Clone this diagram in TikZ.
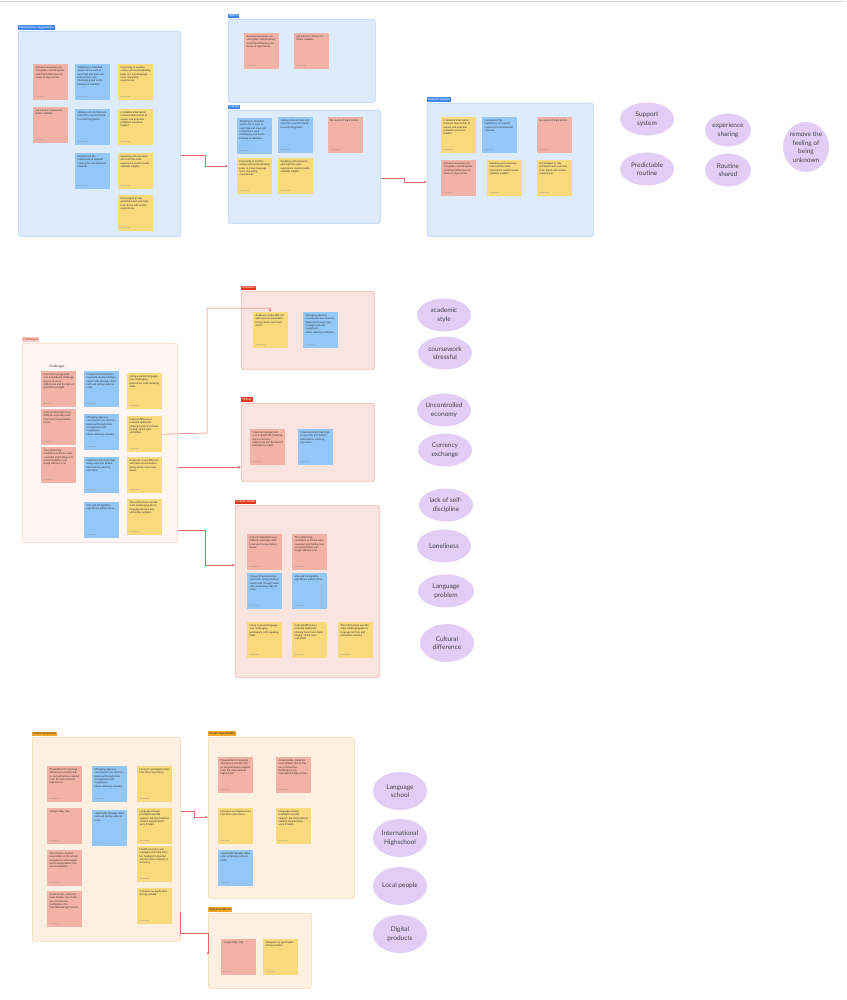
\documentclass[tikz,border=0pt]{standalone}
\usepackage{fontspec}
\setmainfont{Lato}
\usetikzlibrary{arrows.meta,positioning,shapes.geometric}

\definecolor{inkgray}{HTML}{444444}
\definecolor{bluefill}{HTML}{DDEBFB}
\definecolor{blueline}{HTML}{B7D3F3}
\definecolor{challfill}{HTML}{FFF5F3}
\definecolor{challline}{HTML}{F7D2CC}
\definecolor{pinkfill}{HTML}{F9E4DF}
\definecolor{pinkline}{HTML}{EDB6AD}
\definecolor{orangefill}{HTML}{FDF0E0}
\definecolor{orangeline}{HTML}{F3D6B0}
\definecolor{tagblue}{HTML}{3F86EE}
\definecolor{tagred}{HTML}{E5371F}
\definecolor{tagpink}{HTML}{F8CBC4}
\definecolor{tagorange}{HTML}{F4A62A}
\definecolor{notered}{HTML}{F3B2A6}
\definecolor{noteblue}{HTML}{93C7F8}
\definecolor{noteyellow}{HTML}{F8D97C}
\definecolor{ideafill}{HTML}{E2CDF6}
\definecolor{linkred}{HTML}{E26C6C}

\begin{document}
\begin{tikzpicture}[
  x=1pt, y=-1pt,
  every node/.style={font=\fontsize{6.5}{8.5}\selectfont, text=inkgray},
  frame/.style={draw=#1line, fill=#1fill, line width=0.6pt, rounded corners=1.5pt,
                anchor=north west, inner sep=0pt},
  tag/.style={fill=#1, anchor=south west, inner sep=0.8pt,
              font=\fontsize{3.2}{3.2}\selectfont},
  note/.style={fill=note#1, anchor=north west, inner sep=2.5pt, text=black!80,
               font=\fontsize{2.6}{3.3}\selectfont,
               execute at begin node={\begin{minipage}[t][31pt][t]{30pt}\raggedright},
               execute at end node={\endgraf\vfill{\color{black!45}\fontsize{1.8}{2}\selectfont Interviewee}\end{minipage}}},
  idea/.style={ellipse, fill=ideafill, inner sep=0pt, minimum width=54pt,
               minimum height=33pt, align=center},
  link/.style={draw=linkred, line width=0.5pt, -{Stealth[length=3pt,width=2.6pt]}},
]
  \useasboundingbox (0,0) rectangle (846,1000);
  \draw[black!15, line width=0.6pt] (0,1) -- (846,1);

  % top row: expectations
  \node[frame=blue, minimum width=162pt, minimum height=205pt] (fone) at (18,31) {};
  \node[tag=tagblue, text=white, above right=1pt and 0pt of fone.north west] {Expectation, suggestions};
  \node[note=red] (eR1) at (33,64) {Advised newcomers to strengthen self-discipline, avoid bad influences, be aware of legal norms.};
  \node[note=red] (eR2) at (33,107) {get a driver's license for better mobility.};
  \node[note=blue] (eB1) at (75,64) {Adapting to Canadian social norms, such as small talk and reserved interactions, was challenging and led to feelings of isolation.};
  \node[note=blue] (eB2) at (75,109) {Joining cultural clubs and university events helped in social integration.};
  \node[note=blue] (eB3) at (75,153) {Emphasized the importance of support systems for international students.};
  \node[note=yellow] (eY1) at (118,64) {Immersing in another culture and understanding jokes in a new language were rewarding experiences.};
  \node[note=yellow] (eY2) at (118,109) {A detailed information resource about what to expect and potential problems would be helpful.};
  \node[note=yellow] (eY3) at (118,153) {Speaking with someone who had the same experience could provide valuable insights.};
  \node[note=yellow] (eY4) at (118,195) {Encouraged to stay persistent and seek help from those with similar experiences.};

  \node[frame=blue, minimum width=147pt, minimum height=83pt] (ftwo) at (228,19) {};
  \node[tag=tagblue, text=white, above right=1pt and 0pt of ftwo.north west] {Advice};
  \node[note=red] (aR1) at (244,33) {Advised newcomers to strengthen self-discipline, avoid bad influences, be aware of legal norms.};
  \node[note=red] (aR2) at (294,33) {get a driver's license for better mobility.};

  \node[frame=blue, minimum width=152pt, minimum height=113pt] (fthree) at (228,110) {};
  \node[tag=tagblue, text=white, above right=1pt and 0pt of fthree.north west] {Culture};
  \node[note=blue] (cB1) at (237,118) {Adapting to Canadian social norms, such as small talk and reserved interactions, was challenging and led to feelings of isolation.};
  \node[note=blue] (cB2) at (278,117) {Joining cultural clubs and university events helped in social integration.};
  \node[note=red] (cR1) at (328,117) {Be aware of legal norms.};
  \node[note=yellow] (cY1) at (237,158) {Immersing in another culture and understanding jokes in a new language were rewarding experiences.};
  \node[note=yellow] (cY2) at (278,158) {Speaking with someone who had the same experience could provide valuable insights.};

  \node[frame=blue, minimum width=166pt, minimum height=133pt] (ffour) at (427,103) {};
  \node[tag=tagblue, text=white, above right=1pt and 0pt of ffour.north west] {Support system};
  \node[note=yellow] (sY1) at (441,117) {A detailed information resource about what to expect and potential problems would be helpful.};
  \node[note=blue] (sB1) at (482,117) {Emphasized the importance of support systems for international students.};
  \node[note=red] (sR1) at (537,117) {Be aware of legal norms.};
  \node[note=red] (sR2) at (441,160) {Advised newcomers to strengthen self-discipline, avoid bad influences, be aware of legal norms.};
  \node[note=yellow] (sY2) at (487,160) {Speaking with someone who had the same experience could provide valuable insights.};
  \node[note=yellow] (sY3) at (537,160) {Encouraged to stay persistent and seek help from those with similar experiences.};

  \node[idea] (support) at (647,119) {Support\\system};
  \node[idea] (predict) at (647,169) {Predictable\\routine};
  \node[idea, minimum width=46pt] (sharing) at (728,130) {experience\\sharing};
  \node[idea, minimum width=46pt] (routine) at (728,170) {Routine\\shared};
  \node[idea, minimum width=46pt, minimum height=50pt] (unknown) at (806,147) {remove the\\feeling of\\being\\unknown};

  \draw[link] (fone.east |- 0,155) -- (205,155) |- (fthree.west |- 0,166);
  \draw[link] (fthree.east |- 0,178) -- (404,178) |- (ffour.west |- 0,182);

  % middle row: challenges
  \node[frame=chall, minimum width=155pt, minimum height=199pt] (chall) at (22,343) {};
  \node[tag=tagpink, text=tagred!80!black, above right=1pt and 0pt of chall.north west] {Challenges};
  \node[font=\fontsize{3.2}{3.2}\selectfont, text=black!80] (chtitle) at (57,367) {Challenges};
  \node[note=red] (chR1) at (41,371) {Financial management was a significant challenge due to currency differences and the lack of parental oversight.};
  \node[note=red] (chR2) at (41,409) {Cultural adaptation was difficult, especially with food and transportation issues.};
  \node[note=red] (chR3) at (41,447) {The initial living conditions in dorms were crowded, and finding new accommodation was tough without a car.};
  \node[note=blue] (chB1) at (84,371) {Frequent homesickness, especially during holidays, coped with through video calls and joining cultural clubs.};
  \node[note=blue] (chB2) at (84,414) {Managing rigorous coursework was stressful, balanced through time management and engaging in stress-relieving activities.};
  \node[note=blue] (chB3) at (84,457) {Financial strain from high living costs and tuition, balanced by working part-time.};
  \node[note=blue] (chB4) at (84,502) {Visa and immigration regulations added stress.};
  \node[note=yellow] (chY1) at (127,373) {Using a second language was challenging, particularly with speaking skills.};
  \node[note=yellow] (chY2) at (127,416) {Cultural differences included habits like shaking hands and cheek kissing, which were unfamiliar.};
  \node[note=yellow] (chY3) at (127,457) {Academic styles differed, with German education being stricter and more direct.};
  \node[note=yellow] (chY4) at (127,499) {The initial phase was the most challenging due to language barriers and unfamiliar customs.};

  \node[frame=pink, minimum width=133pt, minimum height=78pt] (acad) at (241,291) {};
  \node[tag=tagred, text=white, above right=1pt and 0pt of acad.north west] {Academic};
  \node[note=yellow] (acY) at (253,312) {Academic styles differed, with German education being stricter and more direct.};
  \node[note=blue] (acB) at (303,312) {Managing rigorous coursework was stressful, balanced through time management and engaging in stress-relieving activities.};

  \node[frame=pink, minimum width=133pt, minimum height=78pt] (money) at (241,403) {};
  \node[tag=tagred, text=white, above right=1pt and 0pt of money.north west] {Money};
  \node[note=red] (moR) at (250,429) {Financial management was a significant challenge due to currency differences and the lack of parental oversight.};
  \node[note=blue] (moB) at (298,429) {Financial strain from high living costs and tuition, balanced by working part-time.};

  \node[frame=pink, minimum width=144pt, minimum height=172pt] (cult) at (235,505) {};
  \node[tag=tagred, text=white, above right=1pt and 0pt of cult.north west] {Culture shock};
  \node[note=red] (cuR1) at (247,534) {Cultural adaptation was difficult, especially with food and transportation issues.};
  \node[note=red] (cuR2) at (292,534) {The initial living conditions in dorms were crowded, and finding new accommodation was tough without a car.};
  \node[note=blue] (cuB1) at (247,573) {Frequent homesickness, especially during holidays, coped with through video calls and joining cultural clubs.};
  \node[note=blue] (cuB2) at (292,573) {Visa and immigration regulations added stress.};
  \node[note=yellow] (cuY1) at (247,622) {Using a second language was challenging, particularly with speaking skills.};
  \node[note=yellow] (cuY2) at (292,622) {Cultural differences included habits like shaking hands and cheek kissing, which were unfamiliar.};
  \node[note=yellow] (cuY3) at (338,622) {The initial phase was the most challenging due to language barriers and unfamiliar customs.};

  \node[idea] (acstyle) at (444,315) {academic\\style};
  \node[idea] (course) at (445,353) {coursework\\stressful};
  \node[idea] (economy) at (444,410) {Uncontrolled\\economy};
  \node[idea] (currency) at (445,450) {Currency\\exchange};
  \node[idea] (discipline) at (446,505) {lack of self-\\discipline};
  \node[idea] (lonely) at (444,546) {Loneliness};
  \node[idea, minimum width=56pt] (language) at (446,591) {Language\\problem};
  \node[idea, minimum height=38pt] (difference) at (447,643) {Cultural\\difference};

  \draw[link] (chY2.east) -- (207,433) |- (270,308) -- (acY.north -| 270,0);
  \draw[link] (chall.east |- 0,467) -- (money.west |- 0,467);
  \draw[link] (chall.east |- 0,530) -- (205,530) |- (cult.west |- 0,565);

  % bottom row: resources
  \node[frame=orange, minimum width=148pt, minimum height=204pt] (useful) at (32,737) {};
  \node[tag=tagorange, text=black!80, above right=1pt and 0pt of useful.north west] {Useful resources};
  \node[note=red] (uR1) at (47,766) {Preparation for studying abroad was smooth due to comprehensive support from the international high school.};
  \node[note=red] (uR2) at (47,808) {Google Map, Yelp};
  \node[note=red] (uR3) at (47,850) {The Chinese student association at the school provided crucial support with transportation and accommodation.};
  \node[note=red] (uR4) at (47,891) {Academically, materials were familiar due to the use of American textbooks in his international high school.};
  \node[note=blue] (uB1) at (92,766) {Managing rigorous coursework was stressful, balanced through time management and engaging in stress-relieving activities.};
  \node[note=blue] (uB2) at (92,810) {coped with through video calls and joining cultural clubs.};
  \node[note=yellow] (uY1) at (137,766) {Local pen pal helped when first time came there.};
  \node[note=yellow] (uY2) at (137,808) {Language schools provided essential support, but international student organizations were limited.};
  \node[note=yellow] (uY3) at (137,846) {Health insurance was managed with help from her husband in Quebec and dormitory support in Germany.};
  \node[note=yellow] (uY4) at (137,888) {Compare my application during website};

  \node[frame=orange, minimum width=146pt, minimum height=161pt] (social) at (208,737) {};
  \node[tag=tagorange, text=black!80, above right=1pt and 0pt of social.north west] {Social organization};
  \node[note=red] (soR1) at (218,757) {Preparation for studying abroad was smooth due to comprehensive support from the international high school.};
  \node[note=red] (soR2) at (276,757) {Academically, materials were familiar due to the use of American textbooks in his international high school.};
  \node[note=yellow] (soY1) at (218,808) {Local pen pal helped when first time came there.};
  \node[note=yellow] (soY2) at (276,808) {Language schools provided essential support, but international student organizations were limited.};
  \node[note=blue] (soB1) at (218,850) {coped with through video calls and joining cultural clubs.};

  \node[frame=orange, minimum width=103pt, minimum height=75pt] (digital) at (208,913) {};
  \node[tag=tagorange, text=black!80, above right=1pt and 0pt of digital.north west] {Digital products};
  \node[note=red] (dR1) at (221,939) {Google Map, Yelp};
  \node[note=yellow] (dY1) at (263,939) {Compare my application during website};

  \node[idea, minimum height=38pt] (langschool) at (400,791) {Language\\school};
  \node[idea, minimum height=38pt] (intlhigh) at (400,838) {International\\Highschool};
  \node[idea, minimum height=38pt] (locals) at (400,886) {Local people};
  \node[idea, minimum height=38pt] (digiprod) at (400,934) {Digital\\products};

  \draw[link] (useful.east |- 0,811) -- (194,811) |- (social.west |- 0,817);
  \draw[link] (useful.east |- 0,912) |- (208,933) -- (digital.west |- 0,955);
\end{tikzpicture}
\end{document}
